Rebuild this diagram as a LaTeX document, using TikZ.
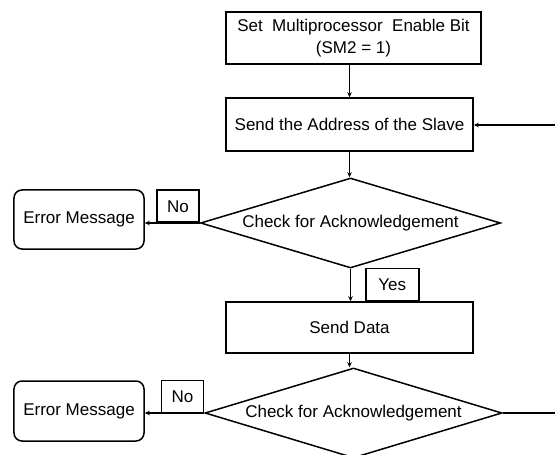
\documentclass[tikz,border=0pt]{standalone}
\usepackage{fontspec}
\setmainfont{Liberation Sans}
\usetikzlibrary{shapes.geometric,arrows.meta}
\begin{document}
\begin{tikzpicture}[x=1bp,y=-1bp,
  every node/.style={font=\fontsize{17bp}{22bp}\selectfont, inner sep=0pt, align=center, text=black},
  procbox/.style={draw, line width=1.5bp, minimum width=#1},
  decision/.style={draw, diamond, shape aspect=3.3, line width=1.5bp, minimum width=#1, minimum height=90bp},
  errbox/.style={draw, rounded corners=8bp, line width=1.5bp, minimum width=130bp},
  tag/.style={draw, line width=1.5bp, minimum width=#1, minimum height=32bp},
  link/.style={line width=1.5bp},
  arr/.style={line width=1.5bp, -{Stealth[length=5bp,width=4.5bp]}}]

  % page
  \fill[white] (0,0) rectangle (555,455);
  \useasboundingbox (0,0) rectangle (555,455);

  % process steps
  \node[procbox=255bp, minimum height=52bp] (setbit) at (353.5,38)
    {Set\ \ Multiprocessor\ \ Enable Bit\\(SM2 = 1)};
  \node[procbox=247bp, minimum height=53bp] (addr) at (349.5,124.5)
    {Send the Address of the Slave};
  \node[decision=300bp] (ack1) at (350.5,223) {Check for Acknowledgement};
  \node[procbox=247bp, minimum height=51bp] (data) at (349.5,327.5) {Send Data};
  \node[decision=297bp] (ack2) at (353.5,413) {Check for Acknowledgement};

  % error outputs
  \node[errbox, minimum height=59bp] (err1) at (79,219.5) {Error Message};
  \node[errbox, minimum height=60bp] (err2) at (79,411) {Error Message};

  % branch labels
  \node[tag=42bp, anchor=south east] (no1) at (ack1.west) {No};
  \node[tag=42bp, anchor=south east] (no2) at (ack2.west) {No};
  \path (data.north) ++(15.5,0) coordinate (yescorner);
  \node[tag=53bp, anchor=south west] (yes) at (yescorner) {Yes};

  % loop ends at the right border
  \coordinate (looptop) at (555,125);
  \coordinate (loopbottom) at (555,413);

  % connectors
  \draw[arr] (setbit.south -| addr.north) -- (addr.north);
  \draw[arr] (addr.south) -- (addr.south |- ack1.north);
  \draw[arr] (ack1.west) -- (err1.east |- ack1.west);
  \draw[arr] (ack1.south) -- (ack1.south |- data.north);
  \draw[arr] (data.south) -- (data.south |- ack2.north);
  \draw[arr] (ack2.west) -- (err2.east |- ack2.west);
  \draw[link] (ack2.east) -- (loopbottom);
  \draw[arr] (looptop) -- (addr.east |- looptop);
\end{tikzpicture}
\end{document}
